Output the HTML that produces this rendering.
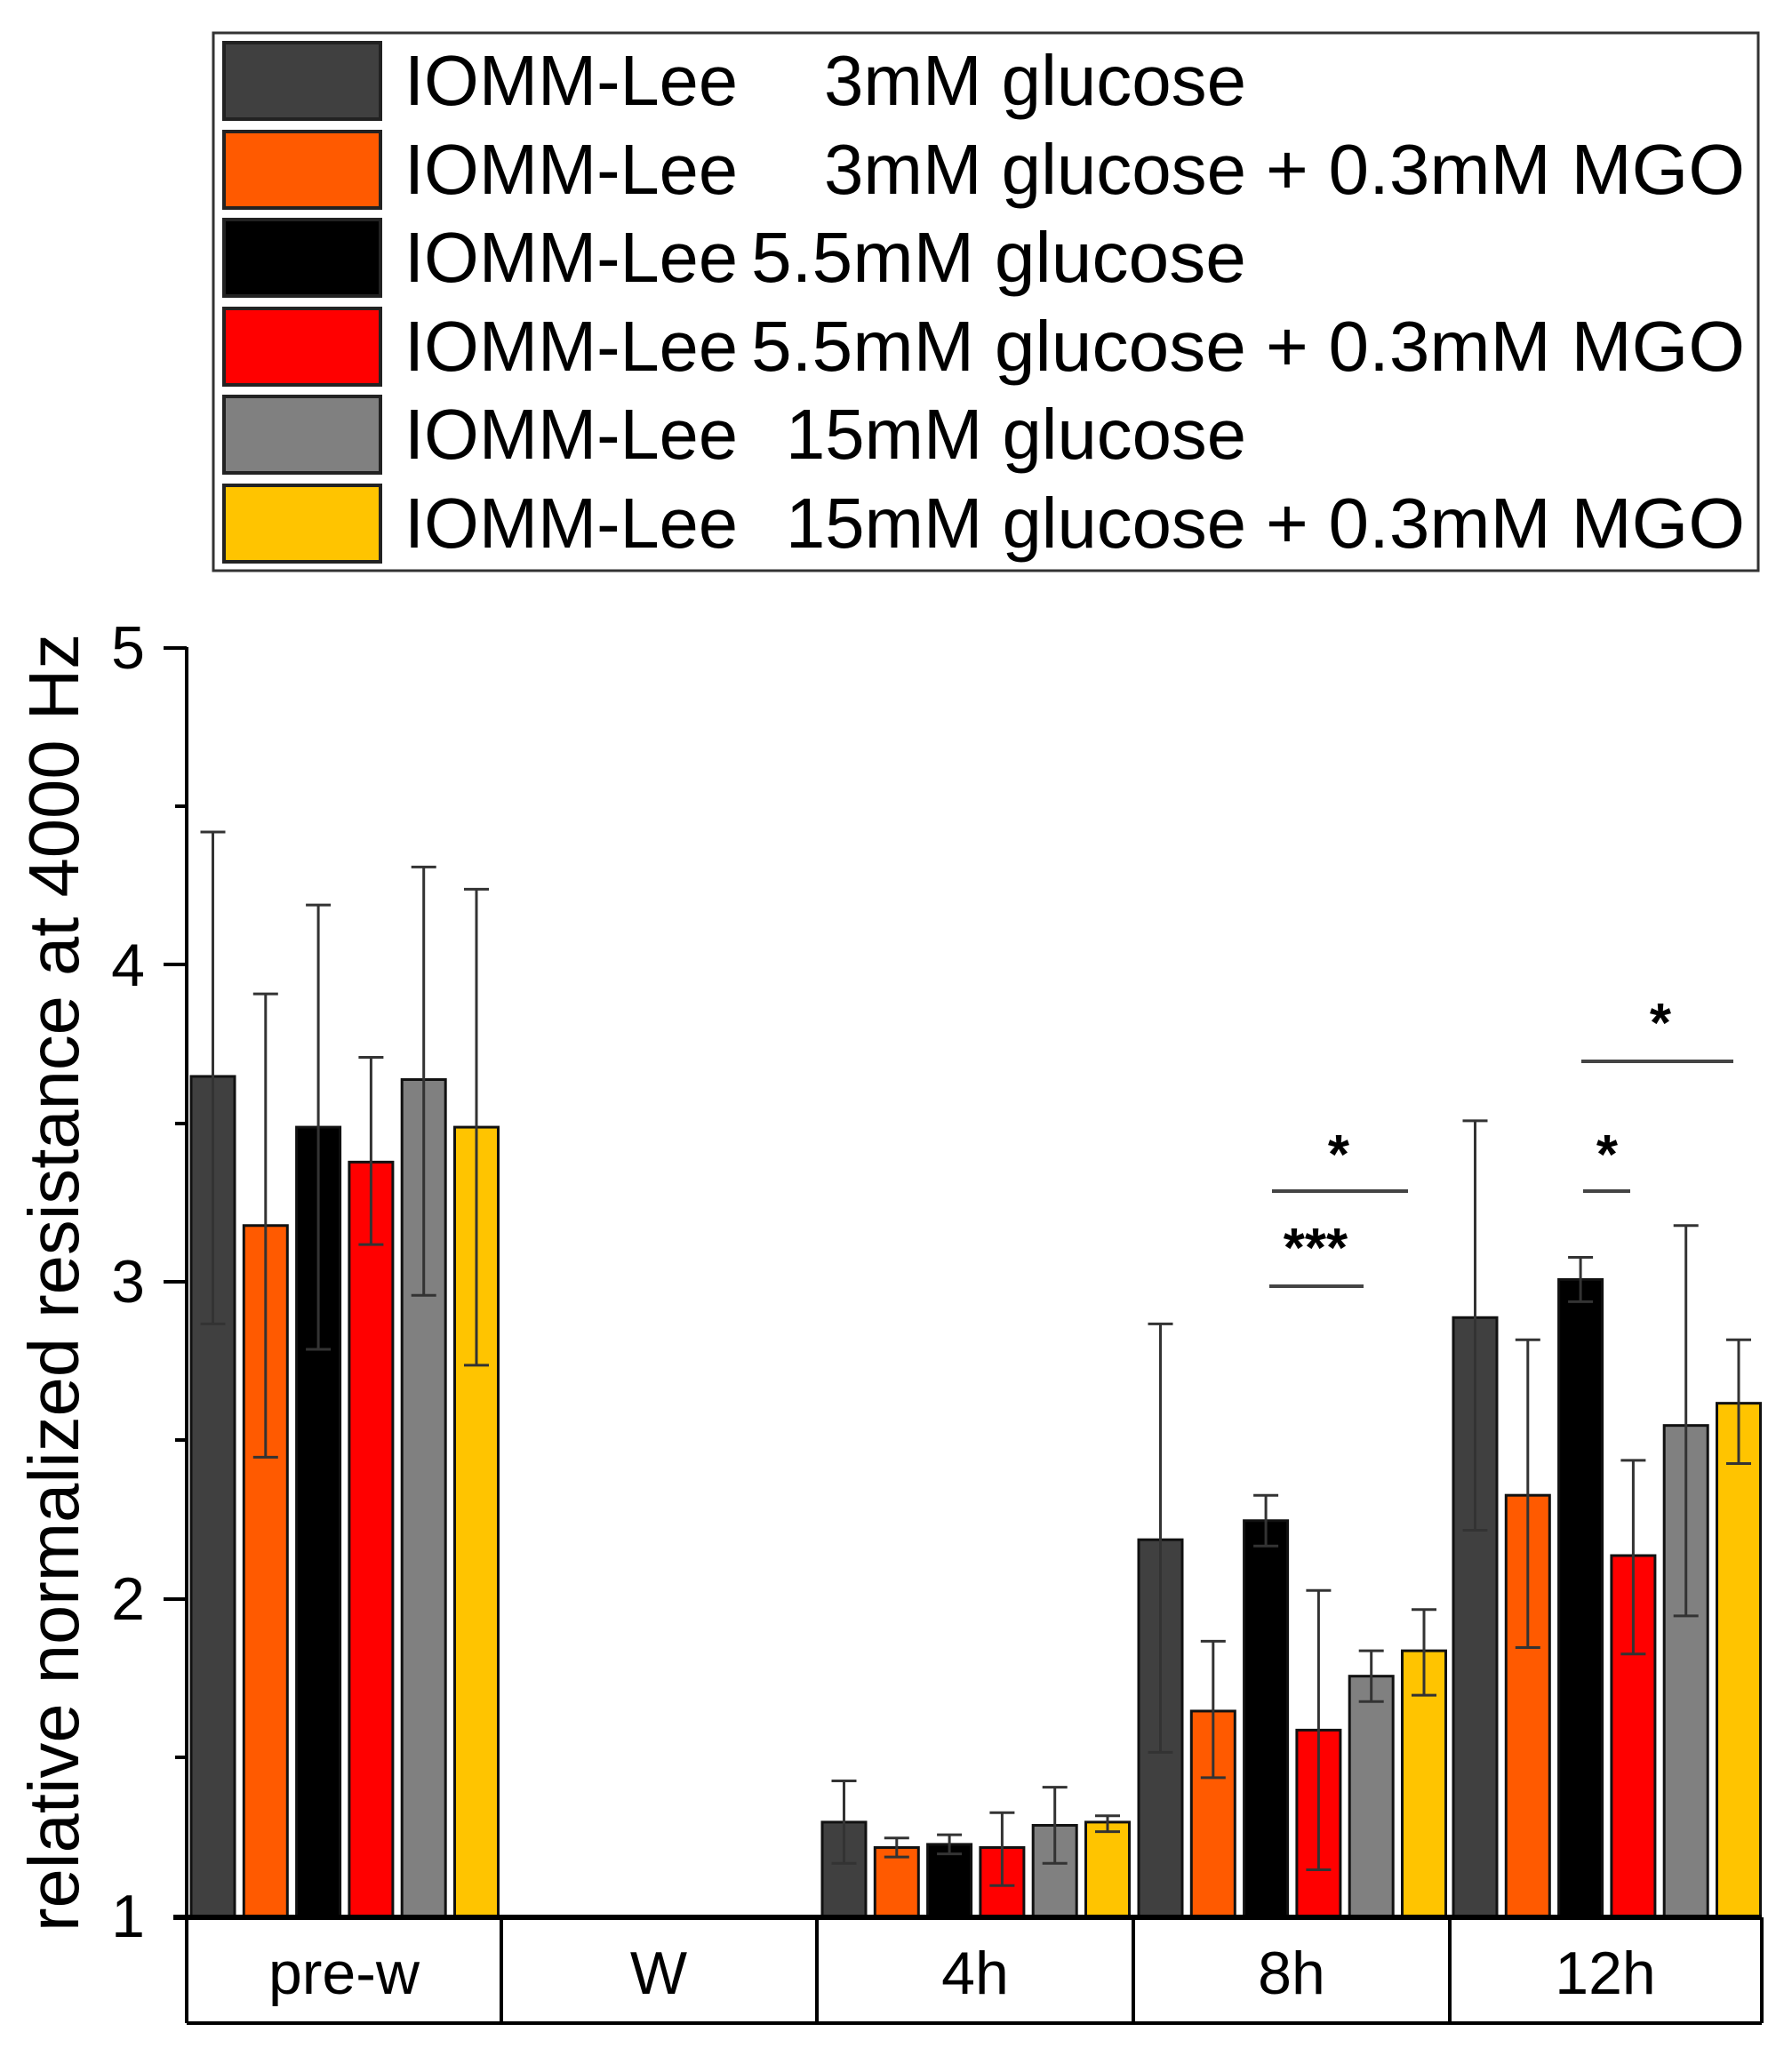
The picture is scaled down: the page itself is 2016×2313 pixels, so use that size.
<!DOCTYPE html>
<html><head><meta charset="utf-8"><style>
html,body{margin:0;padding:0;background:#fff}
svg{display:block}
text{font-family:"Liberation Sans",Arial,sans-serif;fill:#000}
</style></head><body>
<svg width="2016" height="2313" viewBox="0 0 2016 2313" xmlns="http://www.w3.org/2000/svg">
<rect x="240" y="37" width="1738" height="605" fill="#fff" stroke="#333" stroke-width="3"/>
<g stroke="#222" stroke-width="4">
<rect x="252" y="48" width="176" height="86" fill="#404040"/>
<rect x="252" y="148" width="176" height="86" fill="#ff5a00"/>
<rect x="252" y="247" width="176" height="86" fill="#000"/>
<rect x="252" y="347" width="176" height="86" fill="#ff0000"/>
<rect x="252" y="446" width="176" height="86" fill="#808080"/>
<rect x="252" y="546" width="176" height="86" fill="#ffc400"/>
</g>
<g font-size="80">
<text x="455" y="118" textLength="375" lengthAdjust="spacingAndGlyphs">IOMM-Lee</text>
<text x="927" y="118" textLength="475" lengthAdjust="spacingAndGlyphs">3mM glucose</text>
<text x="455" y="218" textLength="375" lengthAdjust="spacingAndGlyphs">IOMM-Lee</text>
<text x="927" y="218" textLength="475" lengthAdjust="spacingAndGlyphs">3mM glucose</text>
<text x="1424" y="218" textLength="539" lengthAdjust="spacingAndGlyphs">+ 0.3mM MGO</text>
<text x="455" y="317" textLength="375" lengthAdjust="spacingAndGlyphs">IOMM-Lee</text>
<text x="845" y="317" textLength="557" lengthAdjust="spacingAndGlyphs">5.5mM glucose</text>
<text x="455" y="417" textLength="375" lengthAdjust="spacingAndGlyphs">IOMM-Lee</text>
<text x="845" y="417" textLength="557" lengthAdjust="spacingAndGlyphs">5.5mM glucose</text>
<text x="1424" y="417" textLength="539" lengthAdjust="spacingAndGlyphs">+ 0.3mM MGO</text>
<text x="455" y="516" textLength="375" lengthAdjust="spacingAndGlyphs">IOMM-Lee</text>
<text x="884" y="516" textLength="518" lengthAdjust="spacingAndGlyphs">15mM glucose</text>
<text x="455" y="616" textLength="375" lengthAdjust="spacingAndGlyphs">IOMM-Lee</text>
<text x="884" y="616" textLength="518" lengthAdjust="spacingAndGlyphs">15mM glucose</text>
<text x="1424" y="616" textLength="539" lengthAdjust="spacingAndGlyphs">+ 0.3mM MGO</text>
</g>
<text transform="translate(88,1443) rotate(-90)" font-size="80" text-anchor="middle" textLength="1460" lengthAdjust="spacingAndGlyphs">relative normalized resistance at 4000 Hz</text>
<g stroke="#000" stroke-width="4">
<line x1="210" y1="728" x2="210" y2="2158"/>
<line x1="184" y1="729" x2="210" y2="729"/>
<line x1="184" y1="1085" x2="210" y2="1085"/>
<line x1="184" y1="1442" x2="210" y2="1442"/>
<line x1="184" y1="1799" x2="210" y2="1799"/>
<line x1="197" y1="907" x2="210" y2="907"/>
<line x1="197" y1="1264" x2="210" y2="1264"/>
<line x1="197" y1="1620" x2="210" y2="1620"/>
<line x1="197" y1="1977" x2="210" y2="1977"/>
</g>
<g font-size="68" text-anchor="middle">
<text x="144" y="752">5</text>
<text x="144" y="1109">4</text>
<text x="144" y="1465">3</text>
<text x="144" y="1822">2</text>
<text x="144" y="2179">1</text>
</g>
<g id="bars"></g>
<g stroke="#000" stroke-width="4" fill="none">
<line x1="195" y1="2157" x2="1982" y2="2157" stroke-width="6"/>
<line x1="210" y1="2157" x2="210" y2="2276"/>
<line x1="564" y1="2157" x2="564" y2="2276"/>
<line x1="919" y1="2157" x2="919" y2="2276"/>
<line x1="1275" y1="2157" x2="1275" y2="2276"/>
<line x1="1631" y1="2157" x2="1631" y2="2276"/>
<line x1="1982" y1="2157" x2="1982" y2="2276"/>
<line x1="210" y1="2276" x2="1982" y2="2276"/>
</g>
<g font-size="68" text-anchor="middle">
<text x="387" y="2243">pre-w</text>
<text x="741" y="2243">W</text>
<text x="1097" y="2243">4h</text>
<text x="1453" y="2243">8h</text>
<text x="1806" y="2243">12h</text>
</g>
<g stroke="#444" stroke-width="4">
<line x1="1431" y1="1340" x2="1584" y2="1340"/>
<line x1="1428" y1="1447" x2="1534" y2="1447"/>
<line x1="1779" y1="1194" x2="1950" y2="1194"/>
<line x1="1781" y1="1340" x2="1834" y2="1340"/>
</g>
<g font-size="62" text-anchor="middle" font-weight="bold">
<text x="1506" y="1320">*</text>
<text x="1480" y="1425">***</text>
<text x="1868" y="1172">*</text>
<text x="1808" y="1320">*</text>
</g>
</svg>
<script>
const Y=v=>2157-(v-1)*357;
const cols=["#404040","#ff5a00","#000","#ff0000","#808080","#ffc400"];
const starts=[215,925,1281,1635];
const data=[
[[3.65,4.42,2.87],[3.18,3.91,2.45],[3.49,4.19,2.79],[3.38,3.71,3.12],[3.64,4.31,2.96],[3.49,4.24,2.74]],
[[1.30,1.43,1.17],[1.22,1.25,1.19],[1.23,1.26,1.20],[1.22,1.33,1.10],[1.29,1.41,1.17],[1.30,1.32,1.27]],
[[2.19,2.87,1.52],[1.65,1.87,1.44],[2.25,2.33,2.17],[1.59,2.03,1.15],[1.76,1.84,1.68],[1.84,1.97,1.70]],
[[2.89,3.51,2.22],[2.33,2.82,1.85],[3.01,3.08,2.94],[2.14,2.44,1.83],[2.55,3.18,1.95],[2.62,2.82,2.43]]];
let s="";
data.forEach((g,gi)=>g.forEach((d,i)=>{
 const x=starts[gi]+i*59.3, w=49, c=x+w/2;
 s+=`<rect x="${x}" y="${Y(d[0])}" width="${w}" height="${2157-Y(d[0])}" fill="${cols[i]}" stroke="#111" stroke-width="3"/>`;
 s+=`<g stroke="#333" stroke-width="3"><line x1="${c}" y1="${Y(d[1])}" x2="${c}" y2="${Y(d[2])}"/><line x1="${c-14}" y1="${Y(d[1])}" x2="${c+14}" y2="${Y(d[1])}"/><line x1="${c-14}" y1="${Y(d[2])}" x2="${c+14}" y2="${Y(d[2])}"/></g>`;
}));
document.getElementById("bars").innerHTML=s;
</script>
</body></html>
